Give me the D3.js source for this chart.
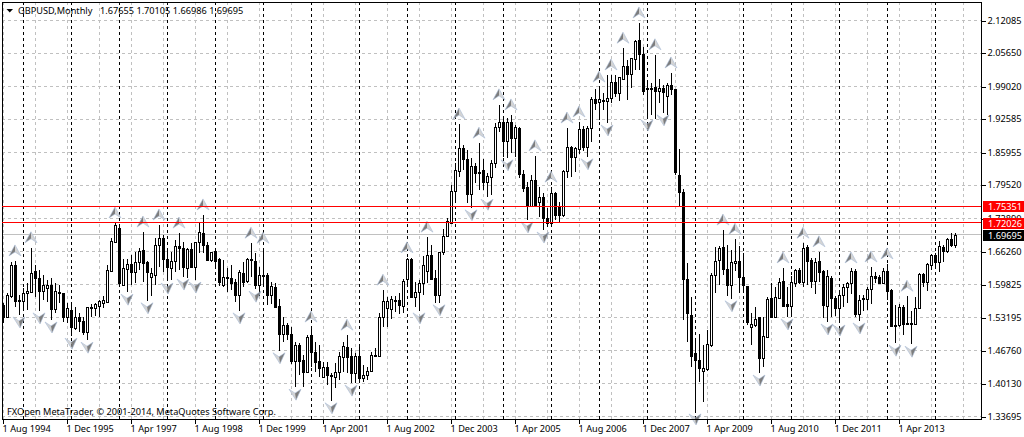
<!DOCTYPE html>
<html lang="en">
<head>
    <meta charset="UTF-8">
    <title>GBPUSD Monthly</title>
    <script src="https://d3js.org/d3.v7.min.js"></script>
    <style>
        html, body { margin: 0; padding: 0; background: #fff; overflow: hidden; }
        svg { display: block; }
        text { font-family: "Noto Sans", "Liberation Sans", sans-serif; font-size: 9.2px; fill: #000; }
        .axis text { font-size: 9.2px; font-family: "Noto Sans", "Liberation Sans", sans-serif; }
    </style>
</head>
<body>
    <script>
        const symbolLabel = "GBPUSD,Monthly";
        const lastQuote = ["1.67655", "1.70105", "1.66986", "1.69695"];
        const copyright = "FXOpen MetaTrader, \u00a9 2001-2014, MetaQuotes Software Corp.";

        const opens = [
            1.558,1.534,1.575,1.637,1.566,1.566,1.581,1.583,1.625,1.611,
            1.585,1.591,1.597,1.550,1.583,1.581,1.534,1.548,1.512,1.534,
            1.526,1.504,1.552,1.552,1.556,1.562,1.564,1.625,1.682,1.710,
            1.597,1.629,1.639,1.623,1.643,1.667,1.643,1.613,1.617,1.676,
            1.690,1.649,1.631,1.645,1.674,1.670,1.631,1.668,1.633,1.682,
            1.700,1.676,1.647,1.665,1.649,1.597,1.611,1.611,1.603,1.577,
            1.621,1.605,1.649,1.645,1.597,1.615,1.617,1.577,1.593,1.556,
            1.500,1.518,1.500,1.447,1.478,1.449,1.425,1.498,1.465,1.447,
            1.415,1.435,1.417,1.415,1.425,1.455,1.474,1.457,1.423,1.457,
            1.413,1.419,1.427,1.459,1.457,1.534,1.552,1.550,1.568,1.568,
            1.556,1.609,1.649,1.573,1.583,1.601,1.625,1.657,1.611,1.577,
            1.663,1.694,1.720,1.783,1.823,1.869,1.847,1.777,1.833,1.819,
            1.825,1.801,1.811,1.839,1.910,1.920,1.882,1.920,1.888,1.908,
            1.817,1.791,1.754,1.805,1.762,1.771,1.730,1.720,1.779,1.754,
            1.736,1.823,1.870,1.851,1.866,1.906,1.870,1.908,1.965,1.959,
            1.963,1.961,1.967,1.999,1.977,2.005,2.031,2.015,2.045,2.082,
            2.054,1.987,1.987,1.989,1.981,1.987,1.971,1.993,1.985,1.815,
            1.781,1.609,1.538,1.463,1.449,1.427,1.431,1.478,1.617,1.647,
            1.672,1.629,1.597,1.641,1.645,1.613,1.595,1.514,1.518,1.534,
            1.453,1.494,1.571,1.534,1.571,1.605,1.560,1.556,1.601,1.627,
            1.603,1.672,1.647,1.605,1.645,1.625,1.556,1.611,1.571,1.552,
            1.577,1.593,1.601,1.625,1.540,1.571,1.570,1.589,1.615,1.613,
            1.601,1.625,1.587,1.518,1.518,1.554,1.522,1.522,1.520,1.552,
            1.619,1.603,1.637,1.657,1.643,1.672,1.665,1.688,1.67655
        ];
        const highs = [
            1.562,1.581,1.643,1.645,1.577,1.591,1.601,1.671,1.637,1.627,
            1.617,1.607,1.611,1.601,1.597,1.581,1.562,1.562,1.554,1.542,
            1.534,1.554,1.560,1.562,1.568,1.575,1.637,1.690,1.720,1.716,
            1.649,1.649,1.657,1.663,1.671,1.702,1.645,1.631,1.690,1.716,
            1.696,1.671,1.663,1.686,1.700,1.682,1.670,1.680,1.682,1.720,
            1.736,1.682,1.663,1.668,1.651,1.647,1.631,1.637,1.609,1.627,
            1.643,1.651,1.680,1.661,1.633,1.670,1.621,1.603,1.601,1.570,
            1.534,1.522,1.514,1.484,1.482,1.459,1.498,1.514,1.484,1.478,
            1.445,1.445,1.423,1.443,1.465,1.484,1.498,1.472,1.463,1.474,
            1.439,1.435,1.465,1.472,1.542,1.587,1.573,1.575,1.575,1.581,
            1.609,1.651,1.651,1.603,1.607,1.655,1.692,1.676,1.627,1.663,
            1.708,1.730,1.795,1.839,1.916,1.874,1.865,1.849,1.839,1.878,
            1.847,1.819,1.845,1.918,1.954,1.930,1.928,1.934,1.914,1.910,
            1.825,1.801,1.815,1.853,1.791,1.779,1.750,1.791,1.781,1.762,
            1.825,1.908,1.872,1.870,1.920,1.912,1.912,1.969,1.985,1.989,
            1.977,2.013,2.013,2.013,2.009,2.066,2.043,2.047,2.082,2.116,
            2.068,2.003,1.997,2.053,2.005,1.993,1.997,2.017,1.985,1.867,
            1.787,1.641,1.573,1.488,1.500,1.478,1.508,1.621,1.672,1.674,
            1.706,1.676,1.667,1.688,1.674,1.660,1.595,1.542,1.554,1.534,
            1.534,1.573,1.601,1.593,1.611,1.631,1.593,1.615,1.629,1.631,
            1.680,1.676,1.651,1.651,1.663,1.627,1.627,1.615,1.575,1.587,
            1.599,1.603,1.631,1.629,1.577,1.577,1.593,1.633,1.623,1.617,
            1.631,1.639,1.589,1.558,1.560,1.558,1.575,1.546,1.573,1.621,
            1.621,1.641,1.659,1.661,1.684,1.676,1.690,1.700,1.70105
        ];
        const lows = [
            1.522,1.534,1.571,1.554,1.538,1.548,1.548,1.581,1.573,1.546,
            1.568,1.564,1.528,1.542,1.562,1.524,1.522,1.496,1.508,1.504,
            1.498,1.488,1.534,1.536,1.534,1.552,1.562,1.623,1.680,1.593,
            1.595,1.583,1.597,1.601,1.627,1.603,1.566,1.575,1.597,1.633,
            1.623,1.605,1.607,1.623,1.627,1.613,1.611,1.631,1.607,1.660,
            1.660,1.647,1.643,1.633,1.595,1.593,1.583,1.587,1.564,1.546,
            1.593,1.601,1.613,1.589,1.575,1.597,1.558,1.560,1.552,1.467,
            1.484,1.488,1.441,1.395,1.419,1.395,1.423,1.435,1.425,1.415,
            1.413,1.399,1.368,1.393,1.409,1.425,1.423,1.403,1.403,1.403,
            1.405,1.409,1.425,1.455,1.455,1.514,1.514,1.530,1.544,1.540,
            1.542,1.597,1.571,1.554,1.546,1.577,1.601,1.607,1.562,1.562,
            1.657,1.692,1.720,1.766,1.811,1.825,1.760,1.750,1.799,1.785,
            1.785,1.771,1.775,1.829,1.900,1.851,1.849,1.858,1.851,1.809,
            1.781,1.726,1.752,1.754,1.732,1.706,1.712,1.720,1.726,1.722,
            1.732,1.809,1.811,1.821,1.857,1.862,1.851,1.880,1.944,1.924,
            1.944,1.918,1.957,1.969,1.961,2.003,1.963,1.987,2.023,2.023,
            1.973,1.928,1.934,1.926,1.957,1.938,1.934,1.973,1.815,1.752,
            1.528,1.484,1.435,1.346,1.405,1.366,1.427,1.474,1.581,1.597,
            1.617,1.575,1.570,1.625,1.581,1.581,1.518,1.478,1.514,1.423,
            1.435,1.492,1.532,1.532,1.571,1.554,1.534,1.536,1.593,1.599,
            1.593,1.597,1.591,1.579,1.603,1.532,1.524,1.534,1.536,1.522,
            1.554,1.562,1.579,1.534,1.526,1.546,1.548,1.560,1.601,1.599,
            1.599,1.568,1.514,1.482,1.514,1.498,1.518,1.480,1.518,1.550,
            1.593,1.585,1.627,1.629,1.623,1.643,1.661,1.672,1.66986
        ];
        const closes = [
            1.534,1.577,1.637,1.566,1.568,1.581,1.585,1.621,1.611,1.585,
            1.597,1.597,1.550,1.585,1.581,1.534,1.552,1.514,1.534,1.526,
            1.504,1.554,1.554,1.560,1.566,1.568,1.627,1.684,1.716,1.601,
            1.631,1.639,1.623,1.643,1.665,1.641,1.623,1.621,1.676,1.690,
            1.649,1.633,1.645,1.674,1.670,1.633,1.668,1.633,1.682,1.702,
            1.676,1.647,1.663,1.645,1.603,1.613,1.613,1.601,1.577,1.623,
            1.603,1.649,1.647,1.597,1.617,1.617,1.577,1.595,1.554,1.500,
            1.518,1.500,1.447,1.478,1.447,1.425,1.494,1.465,1.445,1.433,
            1.435,1.419,1.419,1.425,1.457,1.476,1.455,1.423,1.457,1.413,
            1.419,1.427,1.459,1.457,1.534,1.566,1.566,1.570,1.566,1.558,
            1.605,1.649,1.573,1.583,1.601,1.637,1.657,1.609,1.577,1.663,
            1.694,1.724,1.783,1.825,1.869,1.847,1.777,1.833,1.819,1.821,
            1.801,1.813,1.839,1.910,1.920,1.882,1.920,1.888,1.910,1.817,
            1.789,1.754,1.805,1.756,1.771,1.730,1.720,1.779,1.736,1.736,
            1.823,1.870,1.851,1.869,1.906,1.870,1.908,1.965,1.957,1.965,
            1.961,1.967,1.999,1.977,2.009,2.031,2.015,2.047,2.080,2.054,
            1.981,1.985,1.985,1.981,1.987,1.979,1.993,1.985,1.821,1.781,
            1.609,1.542,1.457,1.449,1.433,1.433,1.480,1.617,1.645,1.670,
            1.629,1.597,1.643,1.645,1.613,1.597,1.524,1.520,1.530,1.453,
            1.496,1.570,1.534,1.573,1.603,1.556,1.556,1.603,1.627,1.603,
            1.670,1.645,1.605,1.643,1.623,1.558,1.615,1.571,1.552,1.577,
            1.593,1.601,1.625,1.540,1.568,1.570,1.589,1.615,1.611,1.601,
            1.625,1.585,1.516,1.516,1.554,1.520,1.520,1.520,1.552,1.619,
            1.603,1.639,1.657,1.643,1.674,1.665,1.688,1.676,1.69695
        ];

        // bars that carry a fractal arrow
        const fractalUp = [3,7,28,35,39,44,50,62,65,77,86,95,101,106,114,119,124,127,133,137,141,144,
            149,152,155,159,163,167,180,183,195,200,204,212,217,221,226];
        const fractalDown = [4,9,12,17,21,31,36,41,45,48,59,63,69,73,82,87,104,109,117,121,126,131,135,
            146,151,161,165,173,182,189,196,206,209,214,223,227];

        const yTicks = [2.12085,2.05650,1.99020,1.92585,1.85955,1.79520,1.72890,1.66260,1.59825,1.53195,1.46760,1.40130,1.33695];
        const xLabels = ["1 Aug 1994","1 Dec 1995","1 Apr 1997","1 Aug 1998","1 Dec 1999","1 Apr 2001","1 Aug 2002",
            "1 Dec 2003","1 Apr 2005","1 Aug 2006","1 Dec 2007","1 Apr 2009","1 Aug 2010","1 Dec 2011","1 Apr 2013"];
        const barsPerLabel = 16;
        const firstJanuary = 5; // bar index of Jan 1995
        const levels = [1.75351, 1.72026];
        const bid = 1.69695;

        const width = 1024, height = 437;
        const plotLeft = 2, plotRight = 981, plotTop = 2, plotBottom = 419;

        const x = d3.scaleLinear().domain([0, opens.length - 1]).range([3, 955]);
        const y = d3.scaleLinear().domain([1.33695, 2.12085]).range([416.5, 20.5]);

        const svg = d3.select("body").append("svg")
            .attr("width", width)
            .attr("height", height);

        const crisp = v => Math.round(v) + 0.5;

        // grid
        const grid = svg.append("g").attr("shape-rendering", "crispEdges");
        grid.selectAll(".hgrid").data(yTicks).enter().append("line")
            .attr("x1", plotLeft).attr("x2", plotRight)
            .attr("y1", d => crisp(y(d) - 0.5)).attr("y2", d => crisp(y(d) - 0.5))
            .attr("stroke", "#c0c0c0").attr("stroke-dasharray", "3,3");
        grid.selectAll(".vgrid").data(d3.range(0, opens.length + 6, barsPerLabel / 2)).enter().append("line")
            .attr("x1", d => crisp(x(d))).attr("x2", d => crisp(x(d)))
            .attr("y1", plotTop).attr("y2", plotBottom)
            .attr("stroke", "#c0c0c0").attr("stroke-dasharray", "3,3");
        grid.selectAll(".year").data(d3.range(firstJanuary, opens.length + 6, 12)).enter().append("line")
            .attr("x1", d => crisp(x(d))).attr("x2", d => crisp(x(d)))
            .attr("y1", plotTop).attr("y2", plotBottom)
            .attr("stroke", "#000").attr("stroke-dasharray", "3,3");
        grid.append("line")
            .attr("x1", plotLeft).attr("x2", plotRight)
            .attr("y1", crisp(y(bid) - 0.5)).attr("y2", crisp(y(bid) - 0.5))
            .attr("stroke", "#c0c0c0");

        // candles
        const candle = svg.append("g").attr("shape-rendering", "crispEdges")
            .selectAll("g").data(opens).enter().append("g");
        candle.append("line")
            .attr("x1", (d, i) => crisp(x(i))).attr("x2", (d, i) => crisp(x(i)))
            .attr("y1", (d, i) => Math.round(y(highs[i])))
            .attr("y2", (d, i) => Math.round(y(lows[i])))
            .attr("stroke", "#000");
        candle.append("rect")
            .attr("x", (d, i) => Math.round(x(i)) - 0.5)
            .attr("width", 2)
            .attr("y", (d, i) => Math.round(y(Math.max(d, closes[i]))) + 0.5)
            .attr("height", (d, i) => Math.max(Math.round(y(Math.min(d, closes[i]))) - Math.round(y(Math.max(d, closes[i]))), 1))
            .attr("fill", (d, i) => closes[i] < d ? "#000" : "#fff")
            .attr("stroke", "#000");

        // fractal arrows
        function arrow(sel, pts, darkSide) {
            const g = sel.append("g");
            g.append("path").attr("d", pts.left).attr("fill", darkSide === "left" ? "#7d7d7d" : "#d4d4d4");
            g.append("path").attr("d", pts.right).attr("fill", darkSide === "left" ? "#d4d4d4" : "#7d7d7d");
            g.append("path").attr("d", pts.outline).attr("fill", "none").attr("stroke", "#a9bcd6").attr("stroke-width", 0.6);
        }
        const upShape = {
            left: "M0,-6L-6,5L0,1Z", right: "M0,-6L6,5L0,1Z", outline: "M0,-6L6,5L0,1L-6,5Z"
        };
        const downShape = {
            left: "M1,6L-6,-5L0,-1Z", right: "M1,6L6,-5L0,-1Z", outline: "M1,6L6,-5L0,-1L-6,-5Z"
        };
        svg.append("g").selectAll("g").data(fractalUp).enter().append("g")
            .attr("transform", d => `translate(${x(d)},${y(highs[d]) - 10})`)
            .each(function () { arrow(d3.select(this), upShape, "left"); });
        svg.append("g").selectAll("g").data(fractalDown).enter().append("g")
            .attr("transform", d => `translate(${x(d)},${y(lows[d]) + 7})`)
            .each(function () { arrow(d3.select(this), downShape, "right"); });

        // axes
        const yAxis = d3.axisRight(y).tickValues(yTicks).tickFormat(d3.format(".5f")).tickSize(4).tickPadding(2).tickSizeOuter(0);
        const xAxis = d3.axisBottom(x).tickValues(xLabels.map((d, i) => i * barsPerLabel))
            .tickFormat((d, i) => xLabels[i]).tickSize(4).tickPadding(2).tickSizeOuter(0);

        const ya = svg.append("g").attr("class", "axis").attr("transform", `translate(${plotRight + 0.5},0)`).call(yAxis);
        ya.select(".domain").remove();
        ya.selectAll("text").attr("fill", "#000");
        const xa = svg.append("g").attr("class", "axis").attr("transform", `translate(0,${plotBottom + 0.5})`).call(xAxis);
        xa.select(".domain").remove();
        xa.selectAll("text").attr("fill", "#000").attr("text-anchor", "start").attr("x", -1);
        svg.selectAll(".axis line").attr("shape-rendering", "crispEdges");

        // frame
        svg.append("rect")
            .attr("x", plotLeft + 0.5).attr("y", plotTop + 0.5)
            .attr("width", plotRight - plotLeft).attr("height", plotBottom - plotTop)
            .attr("fill", "none").attr("stroke", "#000").attr("shape-rendering", "crispEdges");

        // horizontal levels with their price tags
        svg.append("g").selectAll("line").data(levels).enter().append("line")
            .attr("x1", plotLeft).attr("x2", plotRight)
            .attr("y1", d => crisp(y(d) - 0.5)).attr("y2", d => crisp(y(d) - 0.5))
            .attr("stroke", "#ff0000").attr("shape-rendering", "crispEdges");

        const tags = levels.map(d => ({ v: d, c: "#ff0000" })).concat([{ v: bid, c: "#000" }]);
        const tag = svg.append("g").selectAll("g").data(tags).enter().append("g")
            .attr("transform", d => `translate(983,${Math.round(y(d.v)) - 5})`);
        tag.append("rect").attr("width", 41).attr("height", 11).attr("fill", d => d.c);
        tag.append("text").attr("x", 5).attr("y", 9).style("fill", "#fff").text(d => d3.format(".5f")(d.v));

        // header and copyright
        svg.append("path").attr("d", "M6.5,9H13L9.75,12.5Z").attr("fill", "#000");
        svg.append("text").attr("x", 18).attr("y", 13.5).text(symbolLabel);
        svg.append("text").attr("x", 100).attr("y", 13.5).text(lastQuote.join(" "));
        svg.append("text").attr("x", 7).attr("y", 415).text(copyright);
    </script>
</body>
</html>
